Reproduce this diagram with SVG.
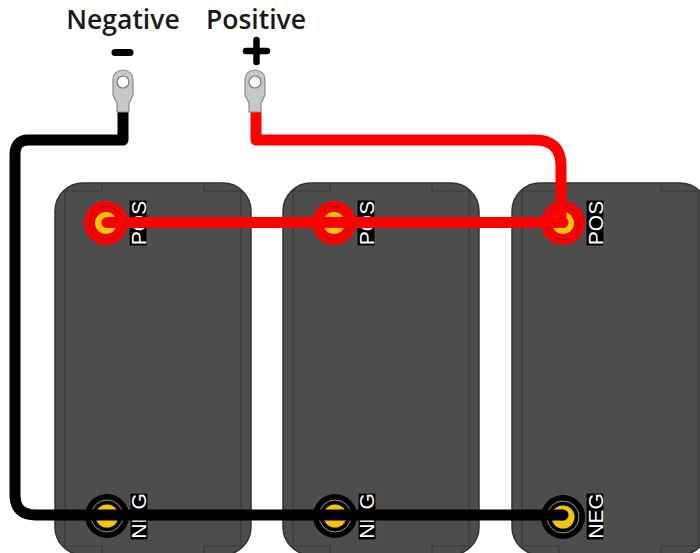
<svg xmlns="http://www.w3.org/2000/svg" width="700" height="553" viewBox="0 0 700 553">
<style>
.body{fill:#4d4d4d;stroke:#333;stroke-width:1.5}
.edge{fill:none;stroke:#3a3a3a;stroke-width:1.2}
.tag{fill:#000;stroke:#555;stroke-width:1}
.tagt{font-family:"Liberation Sans",Arial,sans-serif;font-size:21px;fill:#fff;text-anchor:middle}
.title{font-family:"Open Sans","Noto Sans",sans-serif;font-size:26.5px;font-weight:600;fill:#1a1a1a;text-anchor:middle}
.sign{fill:none;stroke:#000;stroke-linecap:round}
.lug{fill:#c8c8c8;stroke:#8a8a8a;stroke-width:1.2}
.hole{fill:#fff;stroke:#777;stroke-width:1.2}
.wr{fill:none;stroke:#f00;stroke-width:11;stroke-linejoin:round;stroke-linecap:round}
.wb{fill:none;stroke:#000;stroke-width:11;stroke-linejoin:round;stroke-linecap:round}
.post{fill:#f2c40f}
</style>
<defs>
<g id="bat">
<rect class="body" x="0" y="0" width="196" height="372" rx="28"/>
<path class="edge" d="M9 8H47V0M187 8H149V0M9 363H47V372M187 363H149V372"/>
<path class="edge" d="M10 8V363M186 8V363"/>
</g>
<g id="lug">
<path class="lug" d="M-10 -3a10 9 0 0 1 10-9a10 9 0 0 1 10 9V13L6 21V30H-6V21L-10 13Z"/>
<circle class="hole" cx="0" cy="0" r="6"/>
</g>
<g id="tp"><circle cx="0" cy="0" r="22" fill="#f00"/><circle cx="0" cy="0" r="16.5" fill="none" stroke="#900" stroke-width="1"/><circle cx="0" cy="0" r="12.5" fill="#e00"/><circle class="post" cx="0" cy="0" r="11"/></g>
<g id="tn"><circle cx="0" cy="0" r="22" fill="#000"/><circle cx="0" cy="0" r="16" fill="none" stroke="#999" stroke-width="1"/><circle cx="0" cy="0" r="12.5" fill="#111"/><circle class="post" cx="0" cy="0" r="11.5"/></g>
</defs>
<g id="battery-1"><use href="#bat" x="55" y="183"/><use href="#tp" x="106" y="223"/><use href="#tn" x="107" y="516"/>
<rect class="tag" x="129" y="200" width="18" height="46"/><text class="tagt" transform="translate(146 223) rotate(-90)">POS</text>
<rect class="tag" x="130" y="493" width="18" height="47"/><text class="tagt" transform="translate(146 516) rotate(-90)">NEG</text></g>
<g id="battery-2"><use href="#bat" x="283" y="183"/><use href="#tp" x="334" y="223"/><use href="#tn" x="335" y="516"/>
<rect class="tag" x="357" y="200" width="18" height="46"/><text class="tagt" transform="translate(374 223) rotate(-90)">POS</text>
<rect class="tag" x="358" y="493" width="18" height="47"/><text class="tagt" transform="translate(374 516) rotate(-90)">NEG</text></g>
<g id="battery-3"><use href="#bat" x="512" y="183"/><use href="#tp" x="563" y="223"/><use href="#tn" x="563" y="517"/>
<rect class="tag" x="586" y="200" width="18" height="46"/><text class="tagt" transform="translate(603 223) rotate(-90)">POS</text>
<rect class="tag" x="586" y="493" width="18" height="47"/><text class="tagt" transform="translate(603 516) rotate(-90)">NEG</text></g>
<g id="connectors">
<path class="wb" style="stroke-linecap:butt" d="M123 112V140H28Q15 140 15 155V495Q15 515 36 515H563"/>
<path class="wr" style="stroke-linecap:butt" d="M256 112V140H535Q561 140 561 166V223"/>
<path class="wr" d="M107 222.5H563"/>
<circle cx="563" cy="515" r="5.5" fill="#000"/>
</g>
<g id="neg-lug"><use href="#lug" x="123" y="82"/></g>
<g id="pos-lug"><use href="#lug" x="255" y="82"/></g>
<g id="negative-label"><text class="title" x="123" y="29">Negative</text><path class="sign" stroke-width="7" d="M115 52.5H130"/></g>
<g id="positive-label"><text class="title" x="256" y="29">Positive</text><path class="sign" stroke-width="6.5" d="M246 51H267M256.500 40V62"/></g>
</svg>
